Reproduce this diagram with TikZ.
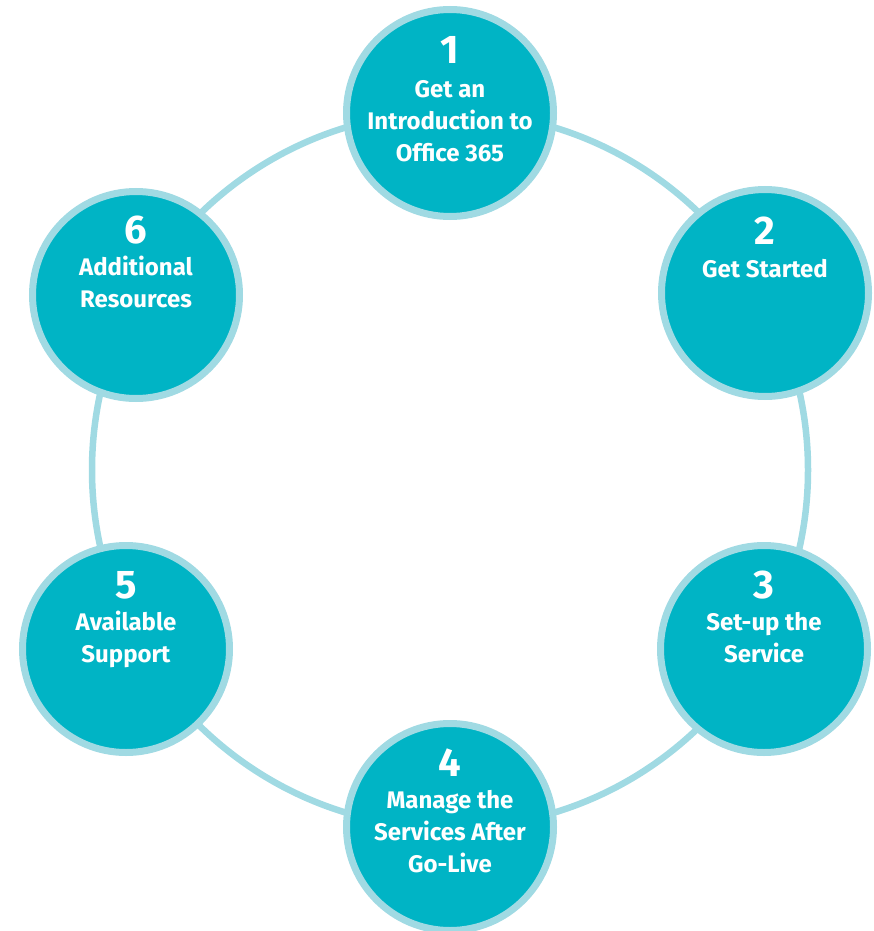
\documentclass[tikz,border=0pt]{standalone}
\usepackage{fontspec}
\setmainfont{Fira Sans}
\usetikzlibrary{calc}
\definecolor{teal}{HTML}{00B4C5}
\definecolor{rim}{HTML}{A0DAE3}
\tikzset{
  stepcircle/.style={circle, fill=teal, draw=rim, line width=7pt, minimum size=207pt, inner sep=0pt},
  numtext/.style={text=white, anchor=base, inner sep=0pt, font=\fontsize{40}{40}\selectfont\bfseries},
  labtext/.style={text=white, anchor=base, inner sep=0pt, align=center, font=\fontsize{24}{32}\selectfont\bfseries},
  ringline/.style={draw=rim, line width=6.5pt}
}
\begin{document}
\begin{tikzpicture}[x=1pt,y=-1pt]
\useasboundingbox (0,0) rectangle (874,931);
\coordinate (ringc) at (450,470);
\draw[ringline] (ringc) circle (358);
\node[stepcircle] (c1) at (450,113) {};
\node[stepcircle] (c2) at (765,293) {};
\node[stepcircle] (c3) at (764,649) {};
\node[stepcircle] (c4) at (450,827) {};
\node[stepcircle] (c5) at (126,649) {};
\node[stepcircle] (c6) at (136,295) {};
% label nodes: base anchor sits on the last line
\node[numtext] (n1) at ($(c1.center)+(0,-49)$) {1};
\node[labtext] (t1) at ($(c1.center)+(0,48)$) {Get an\\Introduction to\\Office 365};
\node[numtext] (n2) at ($(c2.center)+(0,-49)$) {2};
\node[labtext] (t2) at ($(c2.center)+(0,-16)$) {Get Started};
\node[numtext] (n3) at ($(c3.center)+(0,-51)$) {3};
\node[labtext] (t3) at ($(c3.center)+(0,13)$) {Set-up the\\Service};
\node[numtext] (n4) at ($(c4.center)+(0,-51)$) {4};
\node[labtext] (t4) at ($(c4.center)+(0,45)$) {Manage the\\Services After\\Go-Live};
\node[numtext] (n5) at ($(c5.center)+(0,-51)$) {5};
\node[labtext] (t5) at ($(c5.center)+(0,13)$) {Available\\Support};
\node[numtext] (n6) at ($(c6.center)+(0,-52)$) {6};
\node[labtext] (t6) at ($(c6.center)+(0,12)$) {Additional\\Resources};
\end{tikzpicture}
\end{document}
